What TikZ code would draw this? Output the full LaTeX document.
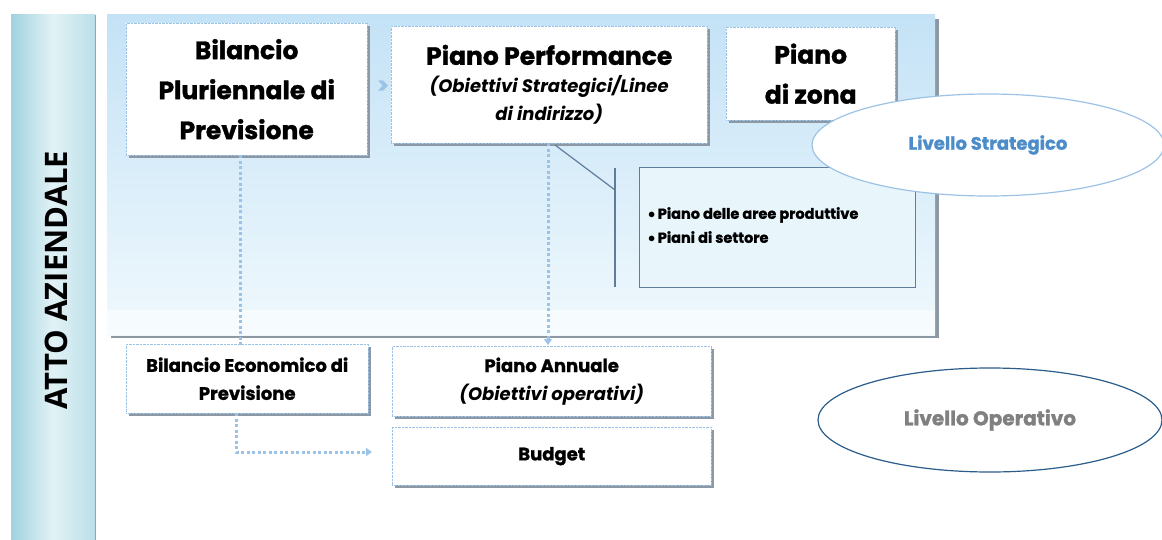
\documentclass[tikz,border=0pt]{standalone}
\usepackage{fontspec}
\setmainfont{Poppins}[BoldFeatures={FakeBold=1.2}]
\newfontfamily\sansb{Open Sans}
\usetikzlibrary{shapes.geometric,shadows,arrows.meta}
\definecolor{panelA}{HTML}{C4E2F6}
\definecolor{panelB}{HTML}{F0F9FD}
\definecolor{barA}{HTML}{9FD2DF}
\definecolor{barB}{HTML}{E2F2F6}
\definecolor{dotblue}{HTML}{9CC3E6}
\definecolor{steel}{HTML}{5F7C9C}
\definecolor{calfill}{HTML}{E8F6FC}
\definecolor{strat}{HTML}{4C8CC8}
\definecolor{opline}{HTML}{2B5C8A}
\definecolor{shad}{HTML}{8C98A4}
\tikzset{
  x=1pt,y=-1pt,
  wbox/.style={draw=dotblue,densely dotted,fill=white,
     drop shadow={shadow xshift=3pt,shadow yshift=-3pt,fill=shad,opacity=1},
     align=center,font=\bfseries},
  conn/.style={dotblue,line width=3pt,dash pattern=on 3pt off 2.5pt},
  ell/.style={ellipse,fill=white,line width=1.2pt},
}
\begin{document}
\begin{tikzpicture}
\useasboundingbox (0,0) rectangle (1162,540);
% left bar
\shade[left color=barA,right color=barA!60!barB,middle color=barB] (11,15) rectangle (95,540);
\draw[steel!70,line width=1pt] (95,15) -- (95,540);
\node[rotate=90,font=\sansb\bfseries\fontsize{31}{36}\selectfont] (atto) at (56,280) {ATTO AZIENDALE};
% panel
\fill[shad] (111,19) rectangle (939,338);
\shade[top color=panelA,bottom color=panelB] (107,15) rectangle (935,335);
\fill[white,opacity=0.5] (107,310) rectangle (935,335);
% top boxes
\node[wbox,minimum width=241pt,minimum height=132pt,font=\bfseries\fontsize{25}{40}\selectfont,anchor=north west] (bpp) at (126,23) {Bilancio\\Pluriennale di\\Previsione};
\node[wbox,minimum width=316pt,minimum height=117pt,anchor=north west,font=\bfseries\fontsize{25}{32}\selectfont] (pp) at (391,26) {Piano Performance\\[-4pt]{\fontsize{18}{26}\selectfont\itshape (Obiettivi Strategici/Linee}\\[-4pt]{\fontsize{18}{26}\selectfont\itshape di indirizzo)}};
\node[wbox,minimum width=169pt,minimum height=93pt,anchor=north west,font=\bfseries\fontsize{25}{40}\selectfont] (pz) at (726,27) {Piano\\di zona};
\node[text=dotblue,font=\bfseries\fontsize{22}{22}\selectfont] (chev) at (383,87) {>};
% callout
\coordinate (cA) at (555,145);
\coordinate (cB) at (615,190);
\draw[steel,line width=1.2pt] (cA) -- (cB);
\draw[steel,line width=1.2pt] (615,168) -- (615,287);
\node[draw=steel,line width=1.2pt,fill=calfill,minimum width=276pt,minimum height=120pt,anchor=north west] (cal) at (639,167) {};
\node[anchor=north west,align=left,font=\bfseries\fontsize{14.5}{25}\selectfont,inner sep=0pt] (calt) at (648,207) {$\bullet$\,Piano delle aree produttive\\[-1pt]$\bullet$\,Piani di settore};
% strategic ellipse
\node[ell,draw=dotblue,minimum width=352pt,minimum height=102pt,text=strat,font=\bfseries\fontsize{18}{18}\selectfont] (ls) at (988,145) {Livello Strategico};
% bottom boxes
\node[wbox,minimum width=242pt,minimum height=69pt,anchor=north west,font=\bfseries\fontsize{18}{28}\selectfont] (bep) at (126,344) {Bilancio Economico di\\Previsione};
\node[wbox,minimum width=319pt,minimum height=70pt,anchor=north west,font=\bfseries\fontsize{18}{28}\selectfont] (pa) at (392,346) {Piano Annuale\\{\itshape (Obiettivi operativi)}};
\node[wbox,minimum width=319pt,minimum height=58pt,anchor=north west,font=\bfseries\fontsize{18}{28}\selectfont] (bud) at (392,427) {Budget};
% connectors
\draw[conn] (bpp.south -| 240,0) -- (240,345);
\draw[conn,-{Triangle[length=6pt,width=8pt,fill=dotblue]}] (pp.south -| 548,0) -- (548,345);
\draw[conn,-{Triangle[length=6pt,width=8pt,fill=dotblue]}] (bep.south -| 236,0) -- (236,452) -- (372,452);
% operative ellipse
\node[ell,draw=opline,minimum width=344pt,minimum height=104pt,text=gray,font=\bfseries\fontsize{20}{20}\selectfont] (lo) at (990,420) {Livello Operativo};
\end{tikzpicture}
\end{document}
